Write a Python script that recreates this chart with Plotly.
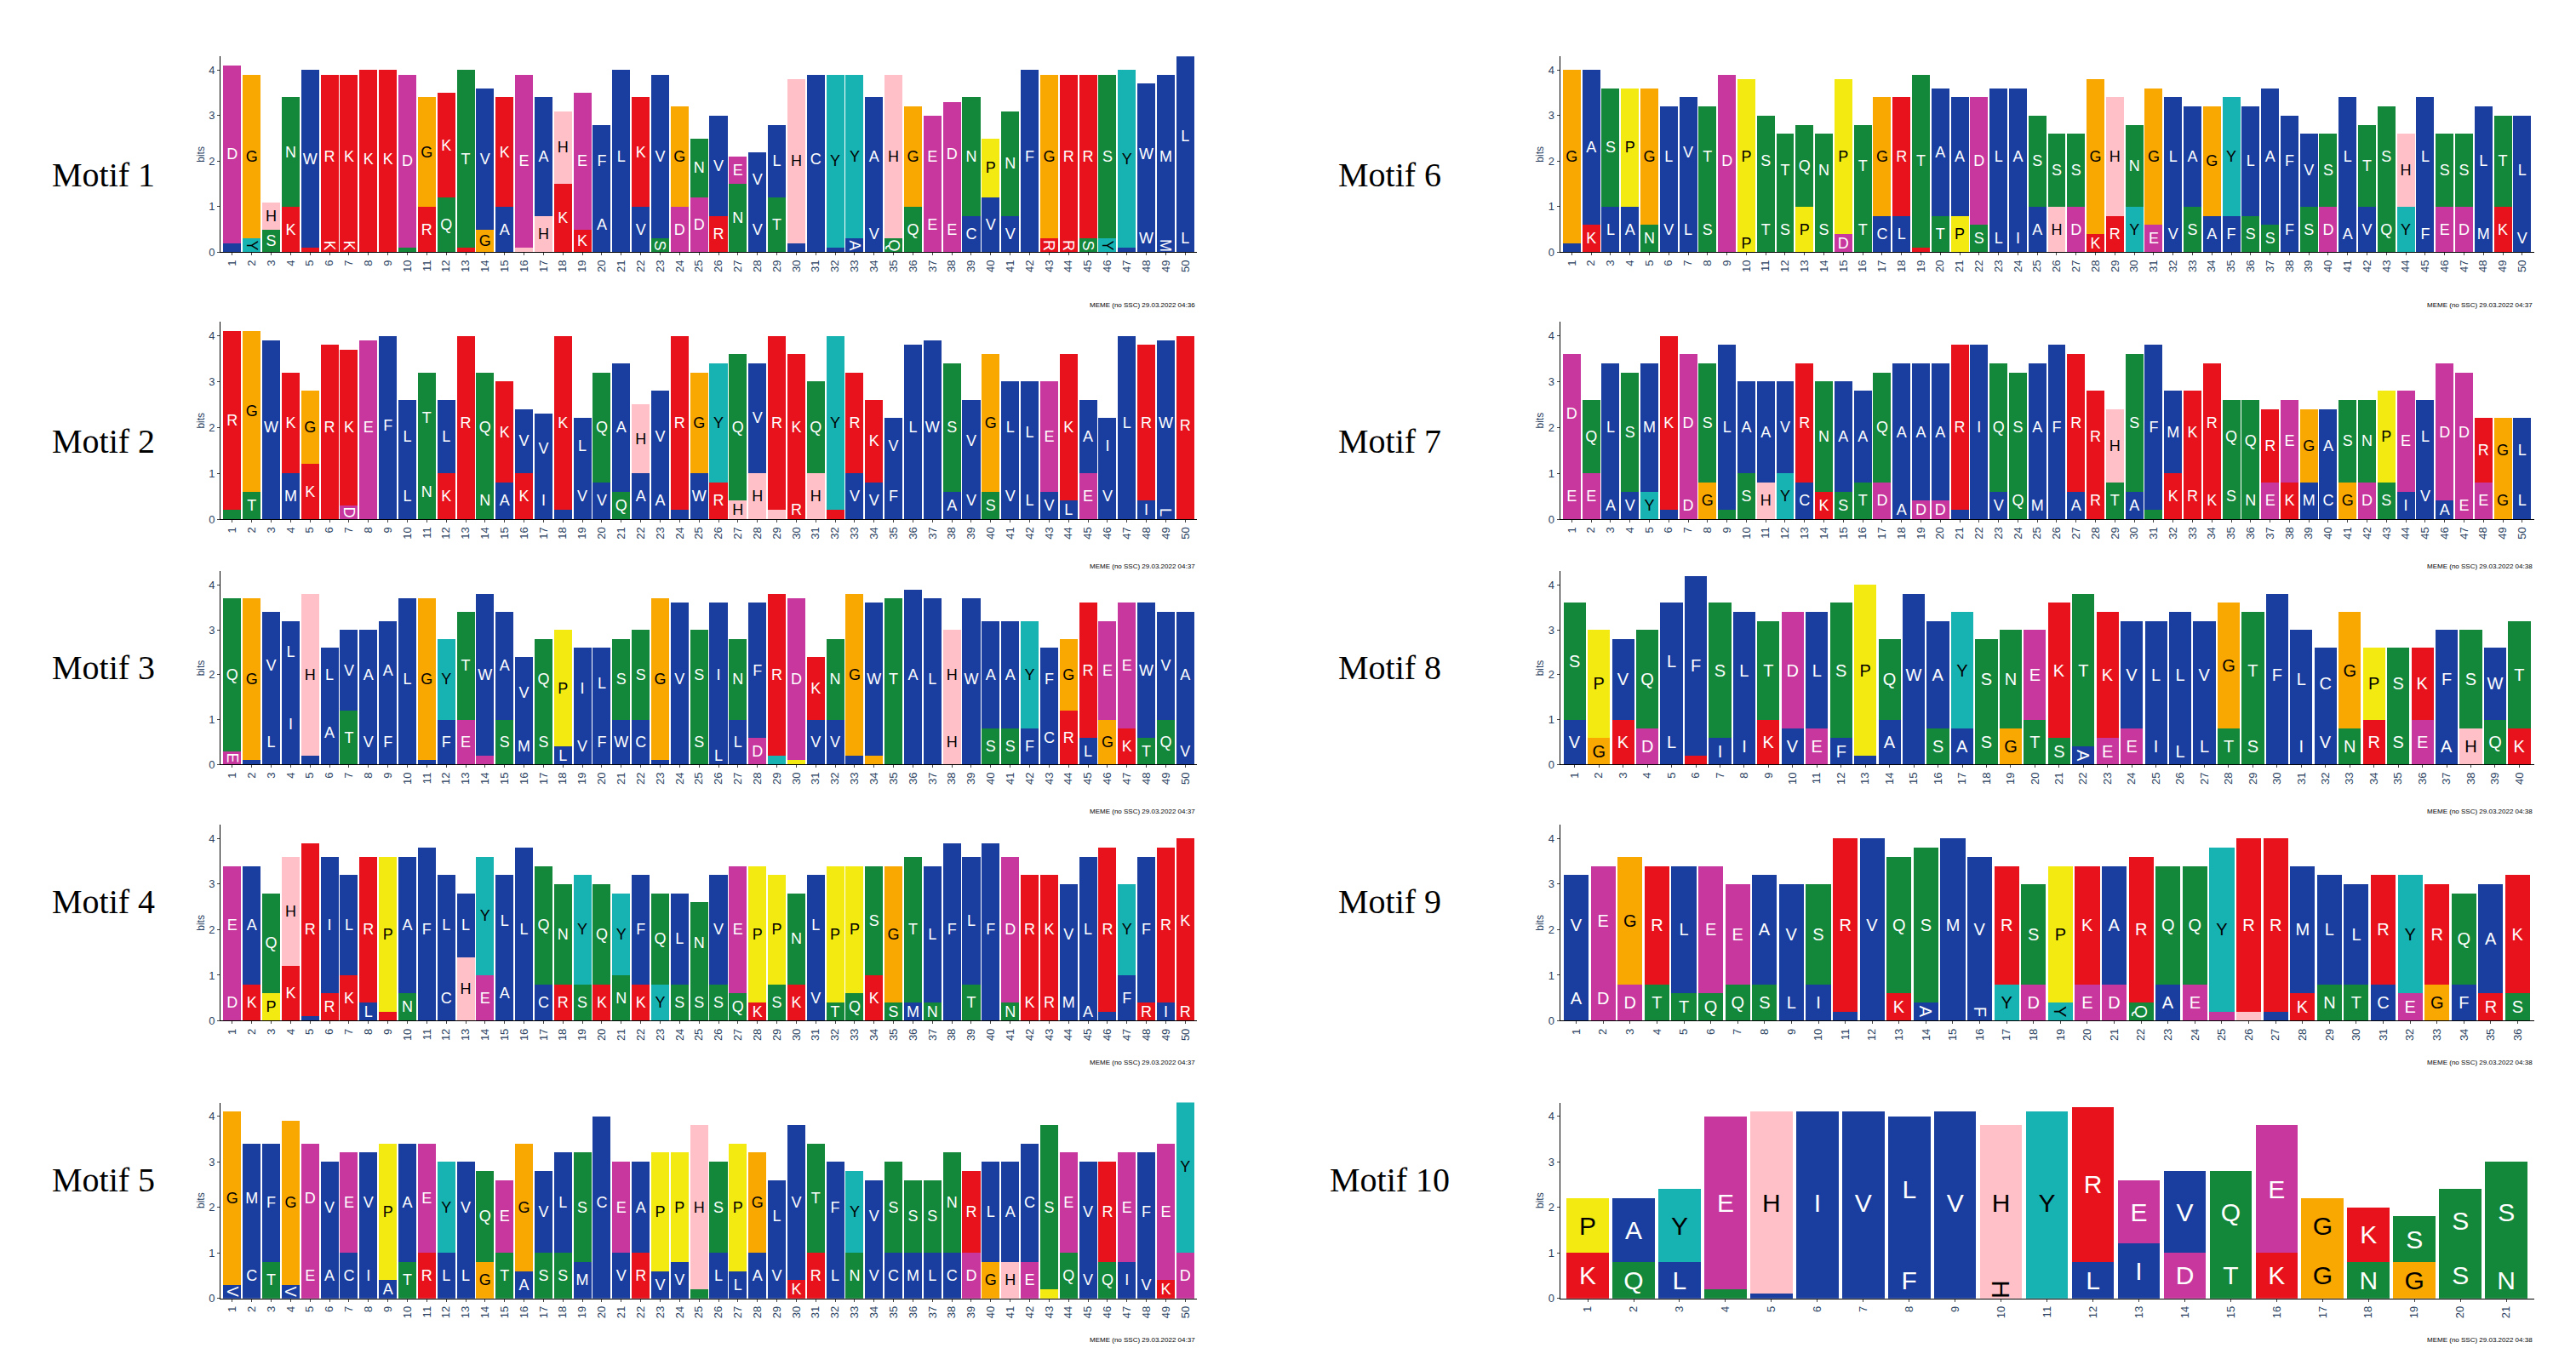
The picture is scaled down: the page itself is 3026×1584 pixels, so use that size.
import plotly.graph_objects as go

# ---- data: per motif, top letter / height and second letter / height per position ----
m1_top = "DGHNWRKKKDGKTVKEAHEFLKVGNVEVLHCYYAHGEDNPNFGRRSYWML"
m1_top_h = [3.9,3.6,0.6,2.4,3.9,3.6,3.6,3.9,3.9,3.8,2.4,2.3,3.9,3.1,2.4,3.8,2.6,1.6,3.0,1.6,3.8,2.4,3.6,2.2,1.3,2.2,0.6,1.2,1.6,3.6,3.7,3.8,3.6,2.6,3.6,2.2,1.8,2.3,2.6,1.3,2.3,3.8,3.6,3.6,3.6,3.6,3.9,3.1,3.6,3.9]
m1_sec = "AYSKKKKRRQRQKGAHHKKAAVSDDRNVTVIAAVQQEECVVLRRSYCWML"
m1_sec_h = [0.2,0.3,0.5,1.0,0.1,0.3,0.3,0.1,0.1,0.1,1.0,1.2,0.1,0.5,1.0,0.1,0.8,1.5,0.5,1.2,0.2,1.0,0.3,1.0,1.2,0.8,1.5,1.0,1.2,0.2,0.2,0.1,0.3,0.8,0.3,1.0,1.2,1.0,0.8,1.2,0.8,0.2,0.3,0.3,0.3,0.3,0.1,0.6,0.3,0.6]

m2_top = "RGWKGRKEFLTLRQKVVKLQAHVRGYQVRKQYRKVLWSVGLLEKAILRWR"
m2_top_h = [3.9,3.5,3.8,2.2,1.6,3.6,3.4,3.8,3.9,1.6,2.0,1.6,3.8,2.4,2.2,1.4,1.5,3.8,1.2,2.4,2.8,1.5,2.0,3.8,2.2,2.6,3.2,2.4,3.8,3.2,2.0,3.8,2.2,1.8,1.2,3.6,3.8,2.8,1.8,3.0,2.0,2.2,2.4,3.2,1.6,1.2,3.8,3.4,3.6,3.9]
m2_sec = "TTMMKRDDLLNKKNAKIIVVQAAFWRHHHRHKVVFCLAVSVLVLEVLILR"
m2_sec_h = [0.2,0.6,0.1,1.0,1.2,0.2,0.3,0.1,0.1,1.0,1.2,1.0,0.2,0.8,0.8,1.0,0.8,0.2,1.0,0.8,0.6,1.0,0.8,0.2,1.0,0.8,0.4,1.0,0.2,0.4,1.0,0.2,1.0,0.8,1.0,0.2,0.1,0.6,0.8,0.6,1.0,0.8,0.6,0.4,1.0,1.0,0.2,0.4,0.3,0.1]

m3_top = "QGVLHLVAALGYTWAVQPILSSGVSINFRDKNGWTALHWAAYFGREEWVA"
m3_top_h = [3.4,3.6,2.4,1.4,3.6,1.2,1.8,2.0,2.2,3.6,3.6,1.8,2.4,3.6,2.4,1.6,1.8,2.6,1.8,1.6,1.8,2.0,3.6,3.4,2.0,3.2,1.8,3.0,3.6,3.6,1.4,1.8,3.6,3.4,3.6,3.8,3.6,2.0,3.6,2.4,2.4,2.4,1.4,1.6,3.0,2.2,2.8,3.0,2.4,2.8]
m3_sec = "EFLILATVFLIFEDSMSLVFWCAASLLDYPVVLGSAAHWSSFCRLGKTQV"
m3_sec_h = [0.3,0.1,1.0,1.8,0.2,1.4,1.2,1.0,1.0,0.1,0.1,1.0,1.0,0.2,1.0,0.8,1.0,0.4,0.8,1.0,1.0,1.0,0.1,0.2,1.0,0.4,1.0,0.6,0.2,0.1,1.0,1.0,0.2,0.2,0.1,0.1,0.1,1.0,0.1,0.8,0.8,0.8,1.2,1.2,0.6,1.0,0.8,0.6,1.0,0.6]

m4_top = "EAQHRILRPAFLLYLLQNYQYFQLNVEPPNLPPSGTLFLFDRKVLRYFRK"
m4_top_h = [2.6,2.6,2.2,2.4,3.8,3.0,2.2,3.2,3.4,3.0,3.6,2.2,1.4,2.6,2.0,3.6,2.6,2.2,2.4,2.2,1.8,2.4,2.0,2.0,1.8,2.4,2.8,3.0,2.4,2.0,2.2,3.0,2.8,2.4,3.0,3.2,3.0,3.8,2.8,3.8,3.2,2.4,2.4,2.2,3.2,3.6,2.0,3.2,3.4,3.6]
m4_sec = "DKPKLRKLKNVCHEALCRSKNKYSSSQKSKVTQKSMNLTLNKRMALFRIR"
m4_sec_h = [0.8,0.8,0.6,1.2,0.1,0.6,1.0,0.4,0.2,0.6,0.2,1.0,1.4,1.0,1.2,0.2,0.8,0.8,0.8,0.8,1.0,0.8,0.8,0.8,0.8,0.8,0.6,0.4,0.8,0.8,1.0,0.4,0.6,1.0,0.4,0.4,0.4,0.1,0.8,0.1,0.4,0.8,0.8,0.8,0.4,0.2,1.0,0.4,0.4,0.4]

m5_top = "GMFGDVEVPAEYVQEGVLSCEAPPHSPGLVTFYVSSSNRLACSEVREFEY"
m5_top_h = [3.8,2.4,2.6,3.6,2.4,2.0,2.2,2.2,3.0,2.6,2.4,2.0,2.0,2.0,1.6,2.8,1.8,2.2,2.4,3.8,2.0,2.0,2.6,2.4,3.6,2.0,2.8,2.2,1.6,3.4,2.4,2.0,1.8,1.6,2.0,1.6,1.6,2.2,1.8,2.2,2.2,2.6,3.6,2.2,2.2,2.2,2.4,2.6,3.0,3.8]
m5_sec = "VCTVEACIATRLLGTASSMLVRVVSLLAVKRLNVCMLCDGHEPQVQIVKD"
m5_sec_h = [0.3,1.0,0.8,0.3,1.0,1.0,1.0,1.0,0.4,0.8,1.0,1.0,1.0,0.8,1.0,0.6,1.0,1.0,0.8,0.2,1.0,1.0,0.6,0.8,0.2,1.0,0.6,1.0,1.0,0.4,1.0,1.0,1.0,1.0,1.0,1.0,1.0,1.0,1.0,0.8,0.8,0.8,0.2,1.0,0.8,0.8,0.8,0.6,0.4,1.0]

m6_top = "GASPGLVTDPSTQNPTGRTAADLASSSGHNGLAGYLAFVSLTSHLSSLTL"
m6_top_h = [3.8,3.4,2.6,2.6,3.0,2.2,2.4,2.2,3.8,3.4,2.0,1.6,1.8,1.6,3.4,1.8,2.6,2.6,3.8,2.8,2.6,2.8,3.0,3.0,2.0,1.6,1.6,3.4,2.6,1.8,3.0,2.6,2.2,2.4,2.6,2.4,3.0,2.0,1.6,1.6,2.6,1.8,2.2,1.6,2.6,1.6,1.6,2.4,2.0,2.4]
m6_sec = "AKLANVLSDPTSPSDTCLRTPSLIAHDKRYEVSAFSSFSDAVQYFEDMKV"
m6_sec_h = [0.2,0.6,1.0,1.0,0.6,1.0,1.0,1.0,0.1,0.4,1.0,1.0,1.0,1.0,0.4,1.0,0.8,0.8,0.1,0.8,0.8,0.6,0.6,0.6,1.0,1.0,1.0,0.4,0.8,1.0,0.6,0.8,1.0,0.8,0.8,0.8,0.6,1.0,1.0,1.0,0.8,1.0,1.0,1.0,0.8,1.0,1.0,0.8,1.0,0.6]

m7_top = "DQLSMKDSLAAVRNAAQAAARIQSAFRRHSFMKRQQREGASNPELDDRGL"
m7_top_h = [2.6,1.6,2.8,2.6,2.8,3.8,3.0,2.6,3.6,2.0,2.2,2.0,2.6,2.4,2.4,2.0,2.4,3.0,3.0,3.0,3.6,3.6,2.8,2.4,2.8,3.6,3.0,2.0,1.6,3.0,3.6,1.8,1.8,2.6,1.6,1.8,1.6,1.8,1.6,1.6,1.8,1.8,2.0,2.2,1.6,3.0,2.6,1.4,1.4,1.4]
m7_sec = "EEAVYLDGTSHYCKSTDADDLLVQMIARTAQKRKSNEKMCGDSIVAEEGL"
m7_sec_h = [1.0,1.0,0.6,0.6,0.6,0.2,0.6,0.8,0.2,1.0,0.8,1.0,0.8,0.6,0.6,0.8,0.8,0.4,0.4,0.4,0.2,0.2,0.6,0.8,0.6,0.2,0.6,0.8,0.8,0.6,0.2,1.0,1.0,0.8,1.0,0.8,0.8,0.8,0.8,0.8,0.8,0.8,0.8,0.6,1.0,0.4,0.6,0.8,0.8,0.8]

m8_top = "SPVQLFSLTDLSPQWAYSNEKTKVLLVGTFLCGPSKFSWT"
m8_top_h = [2.6,2.4,1.8,2.2,2.6,4.0,3.0,2.6,2.2,2.6,2.6,3.0,3.8,1.8,3.6,2.4,2.6,1.8,2.2,2.0,3.0,3.4,2.8,2.4,2.4,2.8,2.4,2.8,2.6,3.6,2.2,1.6,2.6,1.6,1.6,1.6,2.2,2.2,1.6,2.4]
m8_sec = "VGKDLKIIKVEFAAVSASGTSAEEILLTSFIVNRSEAHQK"
m8_sec_h = [1.0,0.6,1.0,0.8,1.0,0.2,0.6,0.8,1.0,0.8,0.8,0.6,0.2,1.0,0.2,0.8,0.8,1.0,0.8,1.0,0.6,0.4,0.6,0.8,0.8,0.6,0.8,0.8,0.8,0.2,0.8,1.0,0.8,1.0,1.0,1.0,0.8,0.8,1.0,0.8]

m9_top = "VEGRLEEAVSRVQSMVRSPKARQQYRRMLLRYRQAK"
m9_top_h = [2.2,2.4,2.8,2.6,2.8,2.8,2.2,2.4,2.2,2.2,3.8,3.8,3.0,3.4,3.8,3.2,2.6,2.2,3.0,2.6,2.6,3.2,2.6,2.6,3.6,3.8,3.8,2.8,2.4,2.2,2.4,2.6,2.2,2.0,2.4,2.6]
m9_sec = "ADDTTQQSLIVLKAMFYDYEDQAEDHIKNTCEGFRS"
m9_sec_h = [1.0,1.0,0.8,0.8,0.6,0.6,0.8,0.8,0.8,0.8,0.2,0.2,0.6,0.4,0.2,0.4,0.8,0.8,0.4,0.8,0.8,0.4,0.8,0.8,0.2,0.2,0.2,0.6,0.8,0.8,0.8,0.6,0.8,0.8,0.6,0.6]

m10_top = "PAYEHIVLVHYREVQEGKSSS"
m10_top_h = [1.2,1.4,1.6,3.8,4.0,4.0,4.0,3.2,4.0,3.4,4.0,3.4,1.4,1.8,1.8,2.8,1.2,1.2,1.0,1.4,2.2]
m10_sec = "KQLQIIVFVHYLIDTKGNGSN"
m10_sec_h = [1.0,0.8,0.8,0.2,0.1,0.1,0.1,0.8,0.1,0.4,0.1,0.8,1.2,1.0,1.0,1.0,1.0,0.8,0.8,1.0,0.8]

motif_names = ["Motif 1","Motif 2","Motif 3","Motif 4","Motif 5",
               "Motif 6","Motif 7","Motif 8","Motif 9","Motif 10"]
dates = ["04:36","04:37","04:37","04:37","04:37","04:37","04:38","04:38","04:38","04:38"]
motifs = [(m1_top,m1_top_h,m1_sec,m1_sec_h),(m2_top,m2_top_h,m2_sec,m2_sec_h),
          (m3_top,m3_top_h,m3_sec,m3_sec_h),(m4_top,m4_top_h,m4_sec,m4_sec_h),
          (m5_top,m5_top_h,m5_sec,m5_sec_h),(m6_top,m6_top_h,m6_sec,m6_sec_h),
          (m7_top,m7_top_h,m7_sec,m7_sec_h),(m8_top,m8_top_h,m8_sec,m8_sec_h),
          (m9_top,m9_top_h,m9_sec,m9_sec_h),(m10_top,m10_top_h,m10_sec,m10_sec_h)]

BLUE, RED, MAG, GREEN, ORANGE, YEL, CYAN, PINK = "#1a3ea0","#e8121c","#c8379e","#13873a","#f8a800","#f2ea10","#17b2b2","#ffc0c8"
colmap = {}
for c in "ACFILVWM": colmap[c] = BLUE
for c in "KR": colmap[c] = RED
for c in "DE": colmap[c] = MAG
for c in "NQST": colmap[c] = GREEN
colmap["G"] = ORANGE; colmap["P"] = YEL; colmap["Y"] = CYAN; colmap["H"] = PINK
txtcol = {ORANGE: "black", YEL: "black", PINK: "black", CYAN: "black"}

rows = [(0.817,0.963),(0.618,0.765),(0.435,0.579),(0.244,0.390),(0.037,0.183)]
cols = [(0.083,0.462),(0.603,0.981)]

fig = go.Figure()
layout = {}
ann = []
for i,(top,th,sec,sh) in enumerate(motifs):
    ci, ri = i//5, i%5
    n = len(top)
    xs = list(range(1,n+1))
    k = "" if i == 0 else str(i+1)
    xa, ya = "x"+k, "y"+k
    fsize = 20 if n <= 40 else 18
    if n <= 25: fsize = 30
    for letters, hs in ((sec,sh),(top,th)):
        cl = [colmap[c] for c in letters]
        fig.add_trace(go.Bar(x=xs, y=hs, xaxis=xa, yaxis=ya,
                             text=[c if h >= 0.3 else "" for c, h in zip(letters, hs)],
                             marker=dict(color=cl, line=dict(width=0)),
                             textposition="inside", insidetextanchor="middle", constraintext="none",
                             textfont=dict(color=[txtcol.get(c, "white") for c in cl],
                                           family="Liberation Sans", size=fsize),
                             showlegend=False, width=0.92, hoverinfo="skip"))
    layout["xaxis"+k] = dict(domain=cols[ci], anchor=ya, range=[0.4,n+0.6], tickmode="array",
                             tickvals=xs, ticktext=[str(v) for v in xs], tickangle=-90,
                             tickfont=dict(size=13, family="Liberation Sans"), showline=True,
                             linecolor="black", ticks="outside", ticklen=3, showgrid=False)
    layout["yaxis"+k] = dict(domain=rows[ri], anchor=xa, range=[0,4.3], tickvals=[0,1,2,3,4],
                             tickfont=dict(size=13, family="Liberation Sans"), showline=True,
                             linecolor="black", ticks="outside", ticklen=3, showgrid=False,
                             title=dict(text="bits", font=dict(size=12, family="Liberation Sans"), standoff=2))
    ann.append(dict(text=motif_names[i], x=cols[ci][0]-0.066, y=(rows[ri][0]+rows[ri][1])/2,
                    xref="paper", yref="paper", showarrow=False,
                    font=dict(size=40, family="Liberation Serif", color="black")))
    ann.append(dict(text="MEME (no SSC) 29.03.2022 " + dates[i], x=cols[ci][1], y=rows[ri][0]-0.035,
                    xref="paper", yref="paper", showarrow=False, xanchor="right",
                    font=dict(size=8, family="Liberation Sans", color="black")))

fig.update_layout(**layout, annotations=ann, barmode="stack", bargap=0.05,
                  width=3026, height=1584, plot_bgcolor="white", paper_bgcolor="white",
                  margin=dict(l=0, r=0, t=0, b=0))
fig.write_html("out.html")
